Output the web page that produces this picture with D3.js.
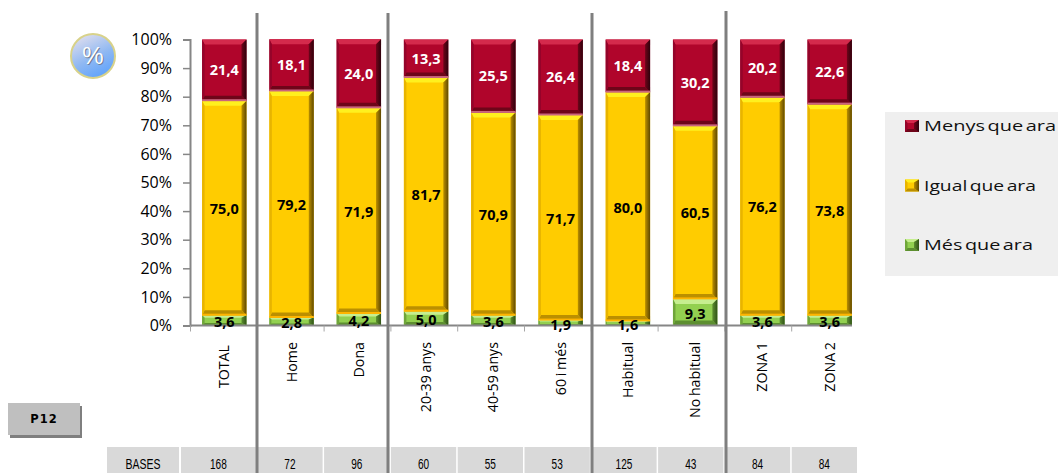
<!DOCTYPE html>
<html>
<head>
<meta charset="utf-8">
<script src="https://d3js.org/d3.v7.min.js"></script>
<style>
  html, body { margin: 0; padding: 0; background: #fff; }
  text { font-family: "Liberation Sans", Arial, sans-serif; }
  text.soft { font-family: "Open Sans", "Noto Sans", sans-serif; }
</style>
</head>
<body>
<svg id="chart" width="1058" height="473"></svg>
<script>
// Data
const categories = ["TOTAL", "Home", "Dona", "20-39 anys", "40-59 anys", "60 i més", "Habitual", "No habitual", "ZONA 1", "ZONA 2"];
const mesQueAra = [3.6, 2.8, 4.2, 5.0, 3.6, 1.9, 1.6, 9.3, 3.6, 3.6];
const igualQueAra = [75.0, 79.2, 71.9, 81.7, 70.9, 71.7, 80.0, 60.5, 76.2, 73.8];
const menysQueAra = [21.4, 18.1, 24.0, 13.3, 25.5, 26.4, 18.4, 30.2, 20.2, 22.6];
const bases = [168, 72, 96, 60, 55, 53, 125, 43, 84, 84];
const yTicks = [0, 10, 20, 30, 40, 50, 60, 70, 80, 90, 100];
const seriesNames = ["Menys que ara", "Igual que ara", "Més que ara"];

const fmt = v => v.toFixed(1).replace(".", ",");

const svg = d3.select("#chart");
const defs = svg.append("defs");

const x = d3.scaleBand().domain(categories).range([190, 864]).paddingInner(0.34).paddingOuter(0.18);
const y = d3.scaleLinear().domain([0, 100]).range([325.5, 39.5]);
// the table under the chart is slightly narrower than the plot
const xBases = d3.scaleBand().domain(categories).range([190, 858]);

// Colours for each series
const styles = {
  menys: { id: "menys", face: "#b0052b", top: "#d42a4c", bottom: "#6e0519", right: "#2e010c", left: "#94042a", cap: "#c9657d" },
  igual: { id: "igual", face: "#ffcc00", top: "#fff01e", bottom: "#bb8f00", right: "#5f4800", left: "#e8b400", cap: "#ffb400" },
  mes: { id: "mes", face: "#92d050", top: "#c6ee90", bottom: "#5d8f30", right: "#2f5216", left: "#6fa53a", cap: "#a8d878" }
};

// Right side of each bar fades from the face colour to nearly black
Object.values(styles).forEach(s => {
  const g = defs.append("linearGradient").attr("id", "side-" + s.id);
  g.append("stop").attr("offset", "0%").attr("stop-color", s.bottom);
  g.append("stop").attr("offset", "100%").attr("stop-color", s.right);
});

function drawBevel(g, x0, x1, y0, y1, s) {
  const b = Math.min(5, (y1 - y0) * 0.25);
  const side = Math.max(b, 5);
  const left = Math.min(b, 2.5);
  const poly = (pts, fill) => g.append("polygon")
    .attr("points", pts.map(p => p.join(",")).join(" "))
    .attr("fill", fill);
  g.append("rect").attr("x", x0).attr("y", y0).attr("width", x1 - x0).attr("height", y1 - y0).attr("fill", s.face);
  poly([[x0, y0], [x1, y0], [x1 - side, y0 + b], [x0 + left, y0 + b]], s.top);
  poly([[x0, y1], [x1, y1], [x1 - side, y1 - b], [x0 + left, y1 - b]], s.bottom);
  poly([[x0, y0], [x0, y1], [x0 + left, y1 - b], [x0 + left, y0 + b]], s.left);
  poly([[x1, y0], [x1, y1], [x1 - side, y1 - b], [x1 - side, y0 + b]], `url(#side-${s.id})`);
}

// Bars
const barLayer = svg.append("g");
categories.forEach((c, i) => {
  const g = barLayer.append("g");
  const x0 = x(c), x1 = x(c) + x.bandwidth();
  const a = mesQueAra[i], b = a + igualQueAra[i], t = b + menysQueAra[i];
  drawBevel(g, x0, x1, y(a), y(0), styles.mes);
  drawBevel(g, x0, x1, y(b), y(a), styles.igual);
  drawBevel(g, x0, x1, y(t), y(b), styles.menys);
  // thin line on the joint between segments
  g.append("rect").attr("x", x0).attr("y", y(a) - 1.5).attr("width", x1 - x0).attr("height", 2).attr("fill", styles.igual.cap);
  g.append("rect").attr("x", x0).attr("y", y(b) - 1.5).attr("width", x1 - x0).attr("height", 2).attr("fill", styles.menys.cap);
});

// Axes
const yAxis = d3.axisLeft(y).tickValues(yTicks).tickFormat(d => d + "%").tickSize(7);
const yG = svg.append("g").attr("transform", "translate(190,0)").call(yAxis);
yG.select(".domain").attr("stroke", "#868686").attr("stroke-width", 2);
yG.selectAll(".tick line").attr("stroke", "#868686").attr("stroke-width", 1.5);
yG.selectAll(".tick text").attr("class", "soft").attr("font-size", 16).attr("fill", "#000").attr("x", -18);

svg.append("line").attr("x1", 190).attr("x2", 852).attr("y1", y(0)).attr("y2", y(0)).attr("stroke", "#868686").attr("stroke-width", 2);
svg.append("g").selectAll("line").data(categories).enter().append("line")
  .attr("x1", d => xBases(d) + 0.5)
  .attr("x2", d => xBases(d) + 0.5)
  .attr("y1", y(0)).attr("y2", y(0) + 6)
  .attr("stroke", "#a6a6a6").attr("stroke-width", 1);

// Value labels
const labelLayer = svg.append("g").attr("text-anchor", "middle");
const addLabel = (cx, cy, fill, v) => labelLayer.append("text")
  .attr("class", "soft")
  .attr("x", cx).attr("y", cy)
  .attr("font-weight", "bold").attr("font-size", 14.5)
  .attr("fill", fill).text(fmt(v));
categories.forEach((c, i) => {
  const cx = x(c) + x.bandwidth() / 2;
  const a = mesQueAra[i], b = a + igualQueAra[i], t = b + menysQueAra[i];
  addLabel(cx, y((b + t) / 2) + 5, "#fff", menysQueAra[i]);
  addLabel(cx, y((a + b) / 2) + 6, "#000", igualQueAra[i]);
  addLabel(cx, y(a / 2) + 7, "#000", a);
});

// Rotated category labels
svg.append("g").selectAll("text").data(categories).enter().append("text")
  .attr("class", "soft")
  .attr("transform", d => `translate(${x(d) + x.bandwidth() / 2 + 5},${d === "TOTAL" ? 345 : 342}) rotate(-90) scale(0.98,1)`)
  .attr("text-anchor", "end")
  .attr("font-size", 14.5)
  .attr("word-spacing", -1)
  .attr("fill", "#000")
  .text(d => d);

// Bases row
const basesY = 447;
const baseCell = (cx0, cx1, label, textWidth) => {
  svg.append("rect").attr("x", cx0).attr("y", basesY).attr("width", cx1 - cx0).attr("height", 26).attr("fill", "#d9d9d9");
  svg.append("text").attr("x", (cx0 + cx1) / 2).attr("y", 469).attr("text-anchor", "middle")
    .attr("font-size", 14).attr("fill", "#000")
    .attr("textLength", textWidth).attr("lengthAdjust", "spacingAndGlyphs").text(label);
};
baseCell(107, 179, "BASES", 35);
categories.forEach((c, i) => {
  const left = i === 0 ? 181 : xBases(c) + 0.5;
  const right = xBases(c) + xBases.bandwidth() - 1;
  baseCell(left, right, bases[i], String(bases[i]).length * 5.6);
});

// Vertical separators between the groups
const separators = [[257, 13], [388, 13], [592, 13], [726, 11]];
svg.append("g").selectAll("line").data(separators).enter().append("line")
  .attr("x1", d => d[0]).attr("x2", d => d[0])
  .attr("y1", d => d[1]).attr("y2", 473)
  .attr("stroke", "#7f7f7f").attr("stroke-width", 3);

// Legend
svg.append("rect").attr("x", 885).attr("y", 112).attr("width", 173).attr("height", 164).attr("fill", "#efefef");
const legendColors = [styles.menys, styles.igual, styles.mes];
const legendWidths = [132, 112, 109];
const legendY = d3.scalePoint().domain(seriesNames).range([126, 245]);
seriesNames.forEach((n, i) => {
  const ly = legendY(n);
  drawBevel(svg.append("g"), 905, 919, ly - 6, ly + 6, legendColors[i]);
  svg.append("text").attr("class", "soft").attr("x", 924).attr("y", ly + 5).attr("font-size", 15).attr("fill", "#111")
    .attr("word-spacing", -2)
    .attr("textLength", legendWidths[i]).attr("lengthAdjust", "spacingAndGlyphs").text(n);
});

// Percent badge
const grad = defs.append("linearGradient").attr("id", "badge").attr("x1", 0.1).attr("y1", 0).attr("x2", 0.6).attr("y2", 1);
grad.append("stop").attr("offset", "0%").attr("stop-color", "#e8e2ee");
grad.append("stop").attr("offset", "60%").attr("stop-color", "#8fb8f2");
grad.append("stop").attr("offset", "100%").attr("stop-color", "#62a4fb");
svg.append("circle").attr("cx", 93).attr("cy", 56).attr("r", 22).attr("fill", "url(#badge)").attr("stroke", "#d8d28a").attr("stroke-width", 2);
svg.append("text").attr("x", 94).attr("y", 65).attr("text-anchor", "middle").attr("font-size", 24).attr("fill", "#6f7f98").text("%");
svg.append("text").attr("x", 93).attr("y", 64).attr("text-anchor", "middle").attr("font-size", 24).attr("fill", "#fff").text("%");

// P12 button
svg.append("rect").attr("x", 10).attr("y", 406).attr("width", 72).attr("height", 32).attr("fill", "#7f7f7f");
svg.append("rect").attr("x", 8).attr("y", 403).attr("width", 72).attr("height", 32).attr("fill", "#bfbfbf");
svg.append("text").attr("x", 44).attr("y", 423).attr("text-anchor", "middle").attr("font-size", 11.5).attr("font-weight", "bold")
  .attr("letter-spacing", 1).style("font-family", "'DejaVu Sans', sans-serif").text("P12");
</script>
</body>
</html>
